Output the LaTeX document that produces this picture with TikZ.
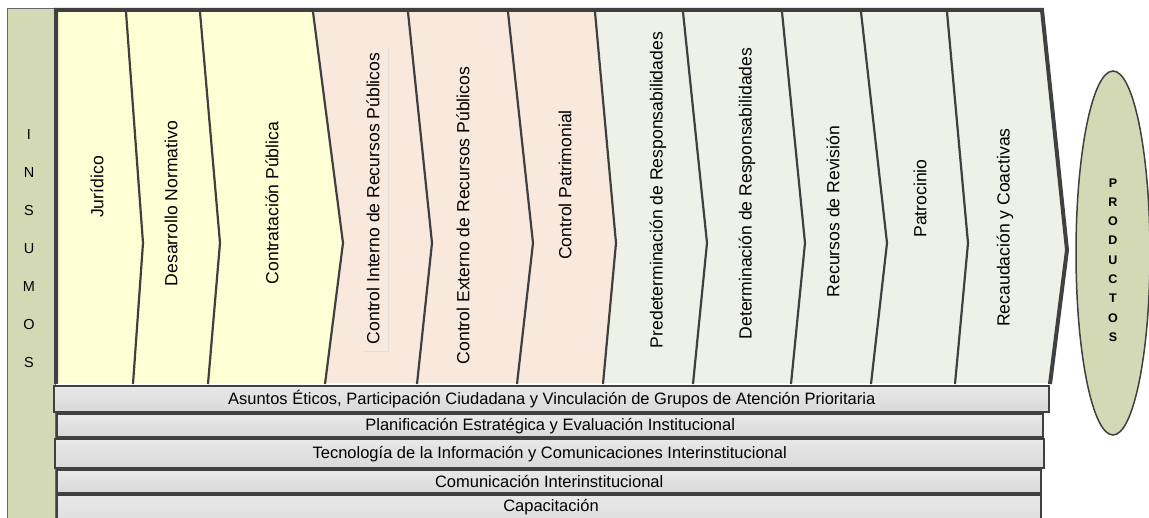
\documentclass[tikz,border=0pt]{standalone}
\usepackage{fontspec}
\setmainfont{Liberation Sans}
\usetikzlibrary{shapes.geometric}
\definecolor{insumo}{HTML}{D3D9B5}
\definecolor{yel}{HTML}{FFFFD5}
\definecolor{pnk}{HTML}{F9E8DC}
\definecolor{grn}{HTML}{EEF1E7}
\definecolor{dk}{HTML}{404040}
\tikzset{
  sepline/.style={draw=dk, line width=2.2pt, line join=miter},
  outerline/.style={draw=dk, line width=4pt, line join=miter},
  vlabel/.style={rotate=90, font=\fontsize{17.6}{20}\selectfont, inner sep=0pt},
  barbox/.style={draw=dk, line width=2.4pt, top color=gray!18, bottom color=gray!30, anchor=north west, inner sep=0pt},
  bartext/.style={font=\fontsize{16.5}{19}\selectfont, inner sep=0pt},
}
\begin{document}
\begin{tikzpicture}[x=1pt,y=-1pt]
\useasboundingbox (0,0) rectangle (1149,518);
% INSUMOS column
\node[draw=gray!80!black, line width=1pt, fill=insumo, anchor=north west, minimum width=48pt, minimum height=530pt, inner sep=0pt] (insumos) at (7,8) {};
\node[align=center, font=\fontsize{14.5}{38}\selectfont, inner sep=0pt] (insumostxt) at (29,249) {I\\N\\S\\U\\M\\O\\S};
% chevron fills
\fill[yel] (56,12) -- (313,12) -- (343,243) -- (325,383) -- (56,383) -- cycle;
\fill[pnk] (313,12) -- (595,12) -- (616,243) -- (603,383) -- (325,383) -- (343,243) -- cycle;
\fill[grn] (595,12) -- (1042,12) -- (1067,250) -- (1050,383) -- (603,383) -- (616,243) -- cycle;
% faint box near Control Interno
\draw[gray!25, line width=1pt] (388,48) -- (388,352) -- (363,352);
% separators
\foreach \a/\b/\c in {126/143/133, 200/220/208, 313/343/325, 408/432/417, 508/533/517, 595/616/603, 683/707/693, 782/805/791, 861/887/871, 947/968/955}
  \draw[sepline] (\a,12) -- (\b,243) -- (\c,384);
\draw[outerline] (56,384) -- (56,10) -- (1042,10) -- (1067,250) -- (1050,384);
% labels
\node[vlabel] (juridico) at (97,187) {Jurídico};
\node[vlabel] (desarrollo) at (171,203.5) {Desarrollo Normativo};
\node[vlabel] (contratacion) at (272,203) {Contratación Pública};
\node[vlabel] (cinterno) at (373,198.5) {Control Interno de Recursos Públicos};
\node[vlabel] (cexterno) at (463,215.5) {Control Externo de Recursos Públicos};
\node[vlabel] (cpatrimonial) at (565,185) {Control Patrimonial};
\node[vlabel] (predet) at (658,190) {Predeterminación de Responsabilidades};
\node[vlabel] (det) at (747,193.5) {Determinación de Responsabilidades};
\node[vlabel] (recursos) at (833,211.5) {Recursos de Revisión};
\node[vlabel] (patrocinio) at (920,198.5) {Patrocinio};
\node[vlabel] (recaudacion) at (1005,227.5) {Recaudación y Coactivas};
% bottom bars
\node[barbox, minimum width=995pt, minimum height=26pt] (b1) at (53,385) {};
\node[bartext] (b1t) at (b1.center) {Asuntos Éticos, Participación Ciudadana y Vinculación de Grupos de Atención Prioritaria};
\node[barbox, minimum width=986pt, minimum height=23pt] (b2) at (56,413) {};
\node[bartext] (b2t) at (b2.center) {Planificación Estratégica y Evaluación Institucional};
\node[barbox, minimum width=989pt, minimum height=29pt] (b3) at (54,438) {};
\node[bartext] (b3t) at (b3.center) {Tecnología de la Información y Comunicaciones Interinstitucional};
\node[barbox, minimum width=984pt, minimum height=23pt] (b4) at (56,469) {};
\node[bartext] (b4t) at (b4.center) {Comunicación Interinstitucional};
\node[barbox, minimum width=984pt, minimum height=40pt] (b5) at (56,494) {};
\node[bartext] (b5t) at (551,507) {Capacitación};
% PRODUCTOS
\node[ellipse, draw=dk, line width=1.5pt, fill=insumo, minimum width=74pt, minimum height=364pt, inner sep=0pt] (productos) at (1113,253) {};
\node[align=center, font=\bfseries\fontsize{12.5}{19.3}\selectfont, inner sep=0pt] (productostxt) at (1113,260) {P\\R\\O\\D\\U\\C\\T\\O\\S};
\end{tikzpicture}
\end{document}
